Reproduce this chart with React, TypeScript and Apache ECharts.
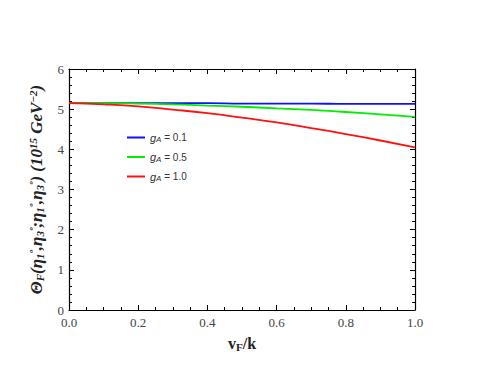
import React, { useEffect, useRef } from "react";
import * as echarts from "echarts";

const vValues = [0, 0.1, 0.2, 0.3, 0.4, 0.5, 0.6, 0.7, 0.8, 0.9, 1.0];
const blueValues = [5.15, 5.15, 5.15, 5.15, 5.15, 5.14, 5.14, 5.14, 5.13, 5.13, 5.13];
const greenValues = [5.15, 5.15, 5.14, 5.12, 5.09, 5.06, 5.02, 4.98, 4.93, 4.87, 4.81];
const redValues = [5.15, 5.12, 5.07, 4.99, 4.9, 4.79, 4.67, 4.53, 4.38, 4.22, 4.05];
const seriesNames = ["gA = 0.1", "gA = 0.5", "gA = 1.0"];
const legendValues = ["0.1", "0.5", "1.0"];
const colors = ["#1010ff", "#00ee00", "#ff1010"];

export default function App() {
  const ref = useRef<HTMLDivElement>(null);
  useEffect(() => {
    if (!ref.current) return;
    const chart = echarts.init(ref.current, undefined, { renderer: "svg" });
    const data = [blueValues, greenValues, redValues];
    const serif = "Liberation Serif";
    const sans = "Liberation Sans";
    const tickStyle = { color: "#000", width: 1 };
    const axisLine = { show: true, onZero: false, lineStyle: { color: "#000", width: 1.2 } };
    const axisTick = { show: true, inside: true, length: 5, lineStyle: tickStyle };
    chart.setOption({
      animation: false,
      backgroundColor: "#fff",
      grid: { left: 69, top: 69, right: 70, bottom: 71, containLabel: false },
      legend: {
        orient: "vertical",
        left: 122,
        top: 127,
        itemWidth: 18,
        itemHeight: 2,
        itemGap: 8,
        icon: "rect",
        data: seriesNames,
        formatter: (name: string) => {
          const i = seriesNames.indexOf(name);
          return `{g|g}{s|A}{t| = ${legendValues[i]}}`;
        },
        textStyle: {
          rich: {
            g: { fontFamily: sans, fontStyle: "italic", fontSize: 11, color: "#333" },
            s: { fontFamily: sans, fontStyle: "italic", fontSize: 8, color: "#333", verticalAlign: "bottom", padding: [4, 0, 0, 0] },
            t: { fontFamily: sans, fontSize: 10, color: "#333" },
          },
        },
      },
      xAxis: [
        {
          type: "value",
          min: 0,
          max: 1,
          interval: 0.2,
          minorTick: { show: true, splitNumber: 4, length: 3, lineStyle: tickStyle },
          axisLine,
          axisTick,
          splitLine: { show: false },
          axisLabel: {
            formatter: (v: number) => v.toFixed(1),
            fontFamily: serif,
            fontSize: 13,
            color: "#444",
            margin: 6,
          },
          name: "{v|v}{f|F}{k|/k}",
          nameLocation: "middle",
          nameGap: 25,
          nameTextStyle: {
            rich: {
              v: { fontFamily: serif, fontWeight: "bold", fontSize: 16, color: "#222" },
              f: { fontFamily: serif, fontWeight: "bold", fontSize: 11, color: "#222", verticalAlign: "bottom", padding: [6, 0, 0, 0] },
              k: { fontFamily: serif, fontWeight: "bold", fontSize: 16, color: "#222" },
            },
          },
        },
        {
          type: "value",
          position: "top",
          min: 0,
          max: 1,
          interval: 0.2,
          minorTick: { show: true, splitNumber: 4, length: 3, lineStyle: tickStyle },
          axisLine,
          axisTick,
          splitLine: { show: false },
          axisLabel: { show: false },
        },
      ],
      yAxis: [
        {
          type: "value",
          min: 0,
          max: 6,
          interval: 1,
          minorTick: { show: true, splitNumber: 5, length: 3, lineStyle: tickStyle },
          axisLine,
          axisTick,
          splitLine: { show: false },
          axisLabel: { fontFamily: serif, fontSize: 13, color: "#444", margin: 5 },
          name:
            "{b|Θ}{bs|F}{b|(η}{bs|1}{bp|º}{b|,η}{bs|3}{bp|º}{b|;η}{bs|1}{bp|º}{b|,η}{bs|3}{bp|º}{b|) (10}{bp|15}{b| GeV}{bp|−2}{b|)}",
          nameLocation: "middle",
          nameRotate: 90,
          nameGap: 24,
          nameTextStyle: {
            rich: {
              b: { fontFamily: serif, fontWeight: "bold", fontStyle: "italic", fontSize: 17, color: "#222" },
              bs: { fontFamily: serif, fontWeight: "bold", fontStyle: "italic", fontSize: 11, color: "#222", verticalAlign: "bottom", padding: [7, 0, 0, 0] },
              bp: { fontFamily: serif, fontWeight: "bold", fontStyle: "italic", fontSize: 11, color: "#222", verticalAlign: "top", padding: [0, 0, 7, 0] },
            },
          },
        },
        {
          type: "value",
          position: "right",
          min: 0,
          max: 6,
          interval: 1,
          minorTick: { show: true, splitNumber: 5, length: 3, lineStyle: tickStyle },
          axisLine,
          axisTick,
          splitLine: { show: false },
          axisLabel: { show: false },
        },
      ],
      series: seriesNames.map((name, i) => ({
        name,
        type: "line",
        xAxisIndex: 0,
        yAxisIndex: 0,
        smooth: true,
        showSymbol: false,
        symbol: "none",
        data: vValues.map((v, j) => [v, data[i][j]]),
        lineStyle: { color: colors[i], width: 1.8 },
        itemStyle: { color: colors[i] },
      })),
    });
    return () => chart.dispose();
  }, []);
  return <div ref={ref} style={{ width: 485, height: 381, margin: -8 }} />;
}
